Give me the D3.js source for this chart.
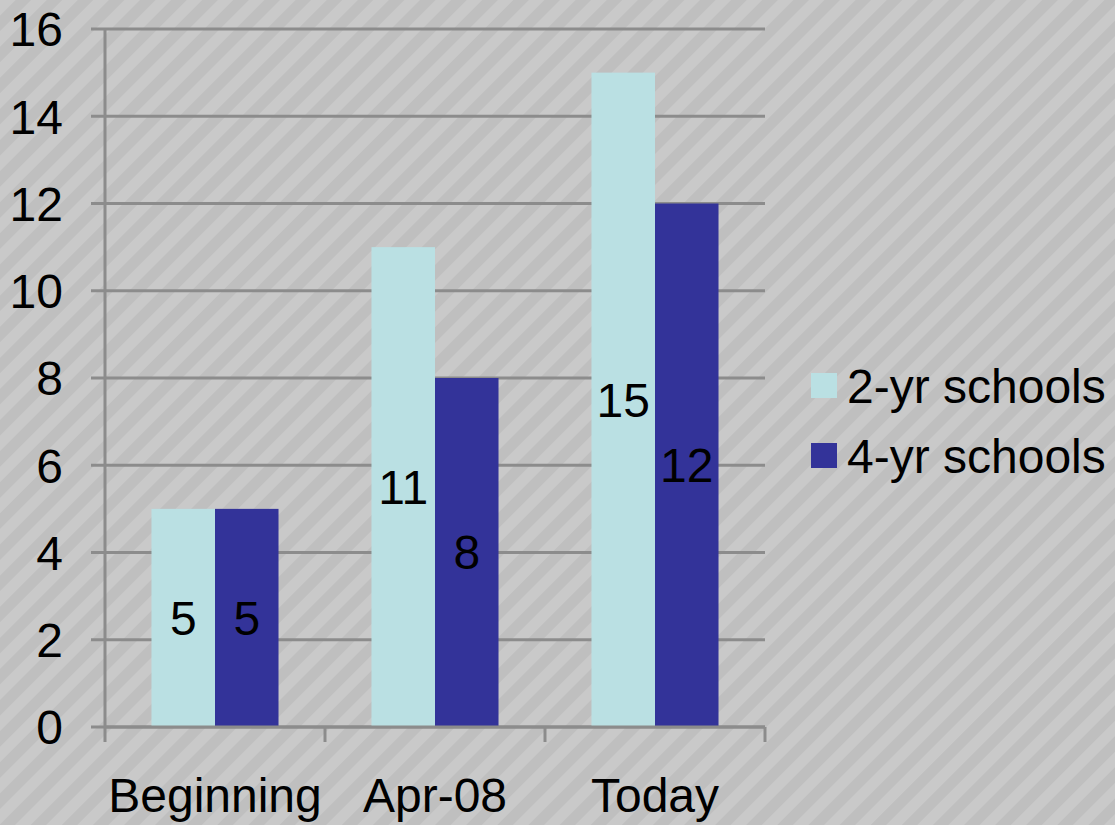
<!DOCTYPE html>
<html><head><meta charset="utf-8">
<script src="https://cdn.jsdelivr.net/npm/d3@7"></script>
<style>html,body{margin:0;padding:0;background:#c0c0c0;}svg{display:block;}</style>
</head><body>
<svg id="chart" width="1115" height="825"></svg>
<script>
const categories = ["Beginning", "Apr-08", "Today"];
const seriesNames = ["2-yr schools", "4-yr schools"];
const twoYear = [5, 11, 15];
const fourYear = [5, 8, 12];
const yTicks = [0, 2, 4, 6, 8, 10, 12, 14, 16];
const colors = ["#bae0e3", "#333399"];

(function () {
const svg = d3.select("#chart");
const W = 1115, H = 825;
const FONT = "'Liberation Sans', Arial, sans-serif";

// background stripes
const defs = svg.append("defs");
const pat = defs.append("pattern").attr("id", "stripes").attr("patternUnits", "userSpaceOnUse")
  .attr("width", 22).attr("height", 22).attr("patternTransform", "rotate(45)");
pat.append("rect").attr("width", 22).attr("height", 22).attr("fill", "#bfbfbf");
pat.append("rect").attr("width", 11).attr("height", 22).attr("fill", "#c9c9c9");
svg.append("rect").attr("width", W).attr("height", H).attr("fill", "url(#stripes)");

const pLeft = 105, pRight = 765, pTop = 29, pBottom = 727;
const y = d3.scaleLinear().domain([0, 16]).range([pBottom, pTop]);
const x0 = d3.scaleBand().domain(categories).range([pLeft, pRight]).padding(0);
const x1 = d3.scaleBand().domain(seriesNames).range([0, x0.bandwidth()]).paddingInner(0).paddingOuter(0.732);

const axisColor = "#8c8c8c";

// gridlines
svg.append("g").selectAll("line").data(yTicks).join("line")
  .attr("x1", pLeft - 14).attr("x2", pRight)
  .attr("y1", d => y(d)).attr("y2", d => y(d))
  .attr("stroke", axisColor).attr("stroke-width", 3);

// y axis
const yAxis = svg.append("g").attr("transform", `translate(${pLeft},0)`)
  .call(d3.axisLeft(y).tickValues(yTicks).tickSize(14).tickPadding(28).tickFormat(d3.format("d")));
yAxis.select(".domain").remove();
yAxis.selectAll(".tick line").remove();
yAxis.selectAll("text").attr("font-family", FONT).attr("font-size", 48).attr("fill", "#000").attr("dy", "0.35em");
svg.append("line").attr("x1", pLeft).attr("x2", pLeft).attr("y1", pTop).attr("y2", pBottom + 15)
  .attr("stroke", axisColor).attr("stroke-width", 3);

// bars
const data = categories.map((c, i) => ({ cat: c, vals: [twoYear[i], fourYear[i]] }));
const groups = svg.append("g").selectAll("g").data(data).join("g")
  .attr("transform", d => `translate(${x0(d.cat)},0)`);
groups.selectAll("rect").data(d => d.vals.map((v, j) => ({ s: seriesNames[j], v, j }))).join("rect")
  .attr("x", d => x1(d.s)).attr("width", x1.bandwidth())
  .attr("y", d => y(d.v)).attr("height", d => y(0) - y(d.v))
  .attr("fill", d => colors[d.j]);
groups.selectAll("text").data(d => d.vals.map((v, j) => ({ s: seriesNames[j], v, j }))).join("text")
  .attr("x", d => x1(d.s) + x1.bandwidth() / 2)
  .attr("y", d => (y(d.v) + y(0)) / 2)
  .attr("dy", "0.35em").attr("text-anchor", "middle")
  .attr("font-family", FONT).attr("font-size", 48).attr("fill", "#000")
  .text(d => d.v);

// x axis
svg.append("line").attr("x1", pLeft).attr("x2", pRight).attr("y1", pBottom).attr("y2", pBottom)
  .attr("stroke", axisColor).attr("stroke-width", 3);
const tickXs = categories.map(c => x0(c) + x0.bandwidth());
svg.append("g").selectAll("line").data(tickXs).join("line")
  .attr("x1", d => d).attr("x2", d => d).attr("y1", pBottom).attr("y2", pBottom + 15)
  .attr("stroke", axisColor).attr("stroke-width", 3);
svg.append("g").selectAll("text").data(categories).join("text")
  .attr("x", d => x0(d) + x0.bandwidth() / 2).attr("y", 812)
  .attr("text-anchor", "middle").attr("font-family", FONT).attr("font-size", 48).attr("fill", "#000")
  .text(d => d);

// legend
const legend = svg.append("g").attr("transform", "translate(811,373)");
const li = legend.selectAll("g").data(seriesNames).join("g")
  .attr("transform", (d, i) => `translate(0,${i * 70})`);
li.append("rect").attr("width", 26).attr("height", 25).attr("fill", (d, i) => colors[i]);
li.append("text").attr("x", 36).attr("y", 30).attr("font-family", FONT).attr("font-size", 48)
  .attr("fill", "#000").text(d => d);
})();
</script>
</body></html>
